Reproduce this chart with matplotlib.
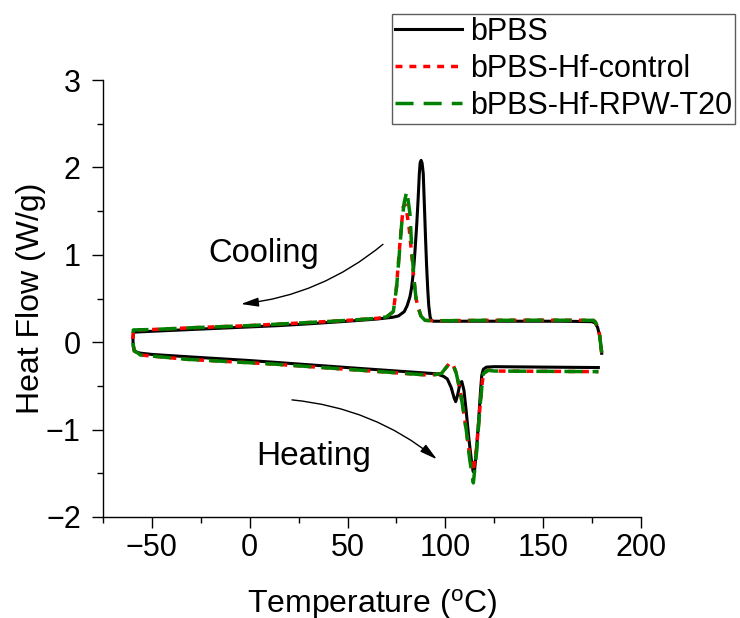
import numpy as np
import matplotlib
matplotlib.use("Agg")
import matplotlib.pyplot as plt
from matplotlib.ticker import MultipleLocator

plt.rcParams['font.family'] = ['Liberation Sans', 'DejaVu Sans']
plt.rcParams['mathtext.fontset'] = 'custom'
plt.rcParams['mathtext.rm'] = 'Liberation Sans'
plt.rcParams['mathtext.it'] = 'Liberation Sans:italic'
plt.rcParams['axes.unicode_minus'] = True

# DSC loops, traced as one polyline each:
# start of cooling (180 C) -> top branch to -60 C -> heating branch to 178 C
bpbs_T = [179.9, 179.5, 178.8, 177.8, 176.5, 175.0, 160, 140, 120, 100, 94, 92.8,
          92.2, 91.5, 91.0, 90.4, 89.9, 89.3, 88.7, 88.1, 87.6, 87.1, 86.7, 86.1,
          85.4, 84.5, 83.6, 82.7, 81.9, 80.5, 79.0, 76.0, 73.0, 65, 56, 50, 30,
          15, 0, -20, -40, -50, -59.3,
          -59.7, -59.6, -59.2, -58.3, -56, -50, -32, 0, 14, 56, 92, 95.6, 99, 101,
          103, 104.5, 105.3, 106.3, 107.5, 108.4, 109.5, 110.7, 112, 113.3, 114.2,
          115, 116, 117, 118, 118.6, 119.4, 121, 125, 150, 178.2]
bpbs_HF = [-0.127, -0.05, 0.08, 0.17, 0.22, 0.235, 0.24, 0.24, 0.24, 0.24, 0.24, 0.25,
           0.29, 0.42, 0.60, 0.88, 1.17, 1.55, 1.93, 2.05, 2.08, 2.05, 1.93, 1.65,
           1.36, 1.05, 0.79, 0.62, 0.52, 0.42, 0.35, 0.30, 0.285, 0.265, 0.25, 0.24, 0.21,
           0.19, 0.175, 0.155, 0.135, 0.125, 0.115,
           0.05, -0.03, -0.08, -0.11, -0.125, -0.14, -0.166, -0.21, -0.232, -0.30, -0.356,
           -0.362, -0.39, -0.42,
           -0.52, -0.64, -0.68, -0.60, -0.47, -0.45, -0.55, -0.80, -1.10, -1.35, -1.48,
           -1.45, -1.20, -0.90, -0.55, -0.38, -0.31, -0.285, -0.28, -0.285, -0.29]

control_T = [179.9, 179.5, 178.8, 177.8, 176.5, 175.6, 150, 120, 95, 89.6, 87.5,
             86.2, 85.0, 84.0, 82.6, 81.5, 80.2, 79.3, 78.5, 77.6, 76.3, 75.0, 73.4,
             70, 65, 50, 30, 15.5, 0, -30, -50, -59.5,
             -59.7, -59.5, -59.0, -57.0, -56, -32, 12, 56, 90.5, 95, 98.1, 100,
             102.4, 104, 105.5, 107.5, 109, 110.9, 112.5, 114.3, 116, 117.7, 118.7,
             119.4, 122, 125, 178.2]
control_HF = [-0.12, -0.04, 0.09, 0.18, 0.235, 0.25, 0.252, 0.25, 0.245, 0.25, 0.30,
              0.39, 0.50, 0.70, 1.05, 1.30, 1.50, 1.58, 1.55, 1.35, 1.00, 0.63, 0.35,
              0.29, 0.273, 0.25, 0.225, 0.208, 0.19, 0.165, 0.145, 0.14,
              0.05, -0.04, -0.10, -0.127, -0.146, -0.196, -0.25, -0.32, -0.375, -0.37,
              -0.356, -0.30,
              -0.235, -0.26, -0.35, -0.55, -0.75, -1.04, -1.30, -1.48, -1.20, -0.74,
              -0.50, -0.36, -0.32, -0.33, -0.337]

t20_T = [179.9, 179.5, 178.8, 177.8, 176.5, 175.6, 150, 120, 95, 89.6, 87.5,
         86.2, 85.0, 84.0, 82.8, 81.9, 80.3, 78.9, 77.7, 76.5, 75.1, 73.4,
         70, 65, 50, 30, 15.5, 0, -30, -50, -59.5,
         -59.7, -59.5, -59.0, -57.0, -56, -32, 12, 56, 90.5, 95, 98.1, 100,
         102.4, 104, 105.5, 107.5, 109, 110.9, 112.5, 114.3, 116, 117.7, 118.7,
         119.4, 122, 125, 178.2]
t20_HF = [-0.12, -0.04, 0.09, 0.18, 0.235, 0.25, 0.252, 0.25, 0.245, 0.25, 0.30,
          0.39, 0.50, 0.71, 1.09, 1.47, 1.73, 1.59, 1.36, 1.02, 0.635, 0.35,
          0.29, 0.273, 0.25, 0.225, 0.208, 0.19, 0.165, 0.145, 0.14,
          0.05, -0.04, -0.10, -0.127, -0.146, -0.196, -0.25, -0.32, -0.375, -0.37,
          -0.356, -0.30,
          -0.235, -0.26, -0.35, -0.55, -0.75, -1.04, -1.35, -1.61, -1.25, -0.74,
          -0.50, -0.36, -0.32, -0.33, -0.337]

fig = plt.figure(figsize=(7.4, 6.18), dpi=100)
ax = fig.add_axes([103/740, 1-517/618, 538/740, 437/618])

ax.plot(bpbs_T, bpbs_HF, color='black', lw=2.2, label='bPBS')
ax.plot(control_T, control_HF, color='#ff0000', lw=2.5, dashes=(2, 2),
        label='bPBS-Hf-control')
ax.plot(t20_T, t20_HF, color='#008000', lw=2.5, dashes=(5.2, 2.9),
        label='bPBS-Hf-RPW-T20')

ax.set_xlim(-75, 200)
ax.set_ylim(-2, 3)
ax.xaxis.set_major_locator(MultipleLocator(50))
ax.xaxis.set_minor_locator(MultipleLocator(25))
ax.yaxis.set_major_locator(MultipleLocator(1))
ax.yaxis.set_minor_locator(MultipleLocator(0.5))
ax.spines['top'].set_visible(False)
ax.spines['right'].set_visible(False)
for s in ['left', 'bottom']:
    ax.spines[s].set_linewidth(1.0)
ax.tick_params(which='major', direction='out', length=8, width=1.0, labelsize=22)
ax.tick_params(which='minor', direction='out', length=4.5, width=1.0)
ax.tick_params(axis='y', which='major', pad=8)

ax.set_xlabel('Temperature ($^{\\mathrm{o}}$C)', fontsize=23, labelpad=17)
ax.set_ylabel('Heat Flow (W/g)', fontsize=23, labelpad=0)

ax.text(-21.3, 0.918, 'Cooling', fontsize=23.5, va='baseline', ha='left')
ax.text(3.2, -1.405, 'Heating', fontsize=24, va='baseline', ha='left')

arrow = dict(arrowstyle='-|>,head_length=0.7,head_width=0.18', color='black',
             lw=1.0, shrinkA=0, shrinkB=0, mutation_scale=15)
ax.annotate('', xy=(-4.5, 0.437), xytext=(68.1, 1.12),
            arrowprops=dict(arrow, connectionstyle='arc3,rad=-0.15'))
ax.annotate('', xy=(95.7, -1.34), xytext=(21.6, -0.66),
            arrowprops=dict(arrow, connectionstyle='arc3,rad=-0.15'))

leg = ax.legend(loc='upper left', bbox_to_anchor=(392/740, 1-14/618),
                bbox_transform=fig.transFigure, fontsize=22, frameon=True,
                fancybox=False, borderpad=0.1, borderaxespad=0,
                handlelength=2.2, handletextpad=0.25, labelspacing=0.22)
leg.get_frame().set_edgecolor('#333333')
leg.get_frame().set_linewidth(1.0)

fig.savefig('out.png', dpi=100)
